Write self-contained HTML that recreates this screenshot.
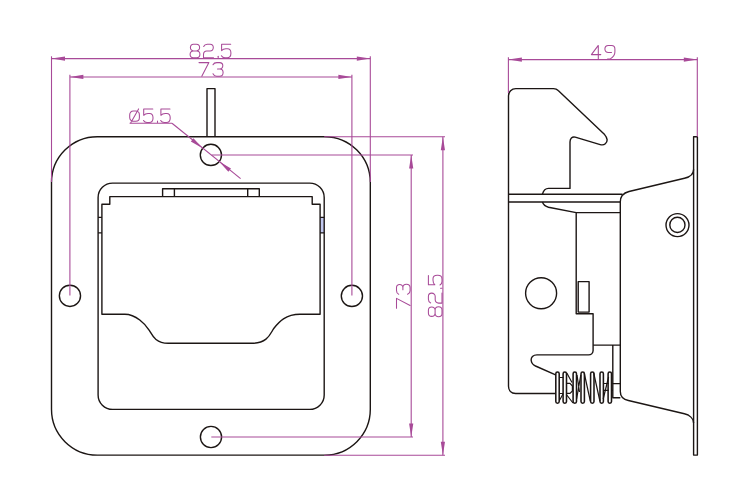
<!DOCTYPE html>
<html><head><meta charset="utf-8"><style>
html,body{margin:0;padding:0;background:#fff;width:750px;height:500px;overflow:hidden;font-family:"Liberation Sans",sans-serif;}
svg{display:block}
</style></head><body><svg width="750" height="500" viewBox="0 0 750 500"><rect x="320.1" y="217.4" width="4.1" height="15.5" fill="#c2c9f0" stroke="none"/><g fill="none" stroke="#1c1614" stroke-width="1.4" stroke-linejoin="round"><rect x="51.5" y="136.7" width="318.8" height="318.4" rx="45.8" ry="45.8"/><path d="M207.0,136.7 L207.0,88.6 L215.0,88.6 L215.0,136.7"/><circle cx="210.9" cy="154.9" r="10.6"/><circle cx="69.95" cy="295.85" r="10.6"/><circle cx="351.9" cy="295.9" r="10.6"/><circle cx="211.0" cy="437.0" r="10.6"/><rect x="98.1" y="183.1" width="226.1" height="226.3" rx="14.5" ry="14.5"/><path d="M101.9,314.3 L101.9,204.3 L109.8,204.3 L109.8,196.6 L312.2,196.6 L312.2,204.3 L320.1,204.3 L320.1,314.3 L300.0,314.3 C285.57,314.3 279.02,321.96 273.94,328.25 C270.72,332.24 268.65,343.3 251.49,343.3 L168.2,343.3 C155.1,343.3 152.13,334.84 149.28,330.36 C145.41,324.3 135.97,314.3 124.8,314.3 Z"/><path d="M162.6,196.6 L162.6,188.8 L259.3,188.8 L259.3,196.6 M174.4,188.8 L174.4,196.6 M247.7,188.8 L247.7,196.6"/><path d="M98.1,217.4 L101.9,217.4 M98.1,232.9 L101.9,232.9"/><path d="M320.1,217.4 L324.2,217.4 M320.1,232.9 L324.2,232.9"/><path d="M542.4,194.2 C543.5,190.5 545.5,188.4 548.5,188.4 L570.0,188.4 L570.0,142 C570.0,138.5 572,136.4 575.2,137.1 L600.2,144.6 C604.5,145.9 607.3,142.8 607.1,139.6 C607,137.6 605.8,136 604.6,134.6 L558.2,90.4 C557,89.2 555.5,88.6 553.5,88.6 L515.8,88.6 C511.6,88.6 508.5,91.7 508.5,95.7 L508.5,386.3 C508.5,390.6 511.3,393.5 515.6,393.5 L556,393.5"/><path d="M508.4,194.3 L622.6,194.3 M508.4,202.0 L620.3,202.0"/><path d="M542.4,202.0 C543.5,205 545.5,206.5 548.5,207.2 L576.2,212.6 L620.3,212.6 M576.2,212.6 L576.2,313.7 L593.1,313.7 L593.1,350.5 C593.1,353 591,354.9 588.5,354.9 L537,354.9 C533,354.9 530.8,357.5 531.2,360.5 C531.5,363 533,364.8 535.5,366 L555.6,374.8"/><rect x="578.2" y="281.6" width="10.9" height="30.5"/><circle cx="541.1" cy="293.2" r="15.5"/><path d="M620.3,202.0 C620.3,196.5 623.5,192.9 629,191.5 L684.5,178.3 C690,177 693.6,173.6 693.6,169.5 M620.3,202.0 L620.3,391.5 C620.3,396 623.5,399.5 628.4,400.5 L684.4,413.8 C689.5,415 693.6,418.5 693.6,423"/><rect x="693.6" y="136.8" width="3.8" height="318.3"/><circle cx="677.5" cy="225.1" r="11.5"/><circle cx="677.4" cy="224.9" r="7.6"/><path d="M593.1,345.1 L620.3,345.1 M612.8,345.1 L612.8,397.8 L620.3,397.8 M612.8,383.6 L620.3,383.6"/><rect x="555.80" y="372.0" width="3.4" height="31.2" rx="1.7" ry="1.7" stroke-width="1.55"/><rect x="563.10" y="372.0" width="3.4" height="31.2" rx="1.7" ry="1.7" stroke-width="1.55"/><rect x="573.10" y="372.0" width="3.4" height="31.2" rx="1.7" ry="1.7" stroke-width="1.55"/><rect x="581.00" y="372.0" width="3.4" height="31.2" rx="1.7" ry="1.7" stroke-width="1.55"/><rect x="590.60" y="372.0" width="3.4" height="31.2" rx="1.7" ry="1.7" stroke-width="1.55"/><rect x="600.00" y="372.0" width="3.4" height="31.2" rx="1.7" ry="1.7" stroke-width="1.55"/><rect x="608.10" y="372.0" width="3.4" height="31.2" rx="1.7" ry="1.7" stroke-width="1.55"/><path d="M559.0,377.5 L563.4,377.5 M559.0,393.5 L563.4,393.5 M559.4,400.5 L563,394 M566.8,373 L572,382.5 M566.8,383.3 L570,383.3 L572.4,386 L572.4,391 L570,393.4 L566.8,393.4 M566.8,395 L573,403 M576.6,399 L580.8,375 M577,375 L579.5,392 M584.2,373 L590.3,401 M593.7,373 L599.9,401 M603.2,399 L608.6,377 M603.2,383.5 L608.6,383.5 M603.2,390.3 L608.6,390.3 M611.4,383.5 L612.8,383.5 M611.4,390.3 L612.8,390.3" stroke-width="1.2"/></g><g><line x1="51.5" y1="56.3" x2="51.5" y2="182" stroke="#a84a98" stroke-width="1.1"/><line x1="370.3" y1="56.3" x2="370.3" y2="182" stroke="#a84a98" stroke-width="1.1"/><line x1="51.5" y1="58.6" x2="370.3" y2="58.6" stroke="#a84a98" stroke-width="1.1"/><path d="M51.50,58.60 L65.00,60.70 L65.00,56.50 Z" fill="#a84a98" stroke="none"/><path d="M370.30,58.60 L356.80,56.50 L356.80,60.70 Z" fill="#a84a98" stroke="none"/><line x1="69.9" y1="74.7" x2="69.9" y2="295.6" stroke="#a84a98" stroke-width="1.1"/><line x1="351.9" y1="74.7" x2="351.9" y2="295.6" stroke="#a84a98" stroke-width="1.1"/><line x1="69.9" y1="76.95" x2="351.9" y2="76.95" stroke="#a84a98" stroke-width="1.1"/><path d="M69.90,76.95 L83.40,79.05 L83.40,74.85 Z" fill="#a84a98" stroke="none"/><path d="M351.90,76.95 L338.40,74.85 L338.40,79.05 Z" fill="#a84a98" stroke="none"/><line x1="324.2" y1="136.7" x2="445" y2="136.7" stroke="#a84a98" stroke-width="1.1"/><line x1="211.6" y1="155.05" x2="413" y2="155.05" stroke="#a84a98" stroke-width="1.1"/><line x1="211.3" y1="437.0" x2="413" y2="437.0" stroke="#a84a98" stroke-width="1.1"/><line x1="324.2" y1="455.3" x2="445" y2="455.3" stroke="#a84a98" stroke-width="1.1"/><line x1="411.2" y1="155.05" x2="411.2" y2="437.0" stroke="#a84a98" stroke-width="1.1"/><line x1="442.9" y1="136.7" x2="442.9" y2="455.3" stroke="#a84a98" stroke-width="1.1"/><path d="M411.20,155.05 L409.10,168.55 L413.30,168.55 Z" fill="#a84a98" stroke="none"/><path d="M411.20,437.00 L413.30,423.50 L409.10,423.50 Z" fill="#a84a98" stroke="none"/><path d="M442.90,136.70 L440.80,150.20 L445.00,150.20 Z" fill="#a84a98" stroke="none"/><path d="M442.90,455.30 L445.00,441.80 L440.80,441.80 Z" fill="#a84a98" stroke="none"/><line x1="129.6" y1="123.3" x2="172.0" y2="123.3" stroke="#a84a98" stroke-width="1.1"/><line x1="172.0" y1="123.3" x2="240.6" y2="178.6" stroke="#a84a98" stroke-width="1.1"/><path d="M202.65,148.25 L193.46,138.14 L190.82,141.41 Z" fill="#a84a98" stroke="none"/><path d="M219.15,161.55 L228.34,171.66 L230.98,168.39 Z" fill="#a84a98" stroke="none"/><line x1="508.4" y1="57.3" x2="508.4" y2="93" stroke="#a84a98" stroke-width="1.1"/><line x1="697.3" y1="57.3" x2="697.3" y2="136.8" stroke="#a84a98" stroke-width="1.1"/><line x1="508.4" y1="59.6" x2="697.3" y2="59.6" stroke="#a84a98" stroke-width="1.1"/><path d="M508.40,59.60 L521.90,61.70 L521.90,57.50 Z" fill="#a84a98" stroke="none"/><path d="M697.30,59.60 L683.80,57.50 L683.80,61.70 Z" fill="#a84a98" stroke="none"/></g><g transform="translate(190.0,44.2)" fill="none" stroke="#a84a98" stroke-width="1.05" stroke-linecap="round" stroke-linejoin="round"><path transform="translate(0.00,0)" d="M3.4,0 L6.4,0 C8.3,0 9.6,1.3 9.6,3.3 C9.6,5.3 8.3,6.7 6.4,6.7 L3.5,6.7 C1.6,6.7 0.4,5.3 0.4,3.3 C0.4,1.3 1.6,0 3.4,0 Z M3.3,6.7 L6.7,6.7 C8.6,6.7 9.9,8.1 9.9,10.1 C9.9,12.2 8.6,13.6 6.7,13.6 L3.3,13.6 C1.4,13.6 0.1,12.2 0.1,10.1 C0.1,8.1 1.4,6.7 3.3,6.7 Z"/><path transform="translate(13.30,0)" d="M0.4,2.3 C1,0.8 2.3,0 4,0 L6.8,0 C8.7,0 10,1.3 10,3.3 C10,5.4 8.7,6.8 6.8,6.8 L3.4,6.8 C1.5,6.8 0.2,8.2 0.2,10.2 L0.2,13.6 L10.2,13.6"/><path transform="translate(27.40,0)" d="M0.8,12.1 L0.8,13.6"/><path transform="translate(31.30,0)" d="M9.4,0 L0.3,0 L0.3,6.4 C1.3,5.2 2.6,4.6 4.6,4.6 L6.2,4.6 C8.3,4.6 9.6,6.3 9.6,8.8 L9.6,9.4 C9.6,12 8.2,13.6 5.8,13.6 L3.6,13.6 C2,13.6 0.8,12.8 0.1,11.6"/></g><g transform="translate(199.0,62.6)" fill="none" stroke="#a84a98" stroke-width="1.05" stroke-linecap="round" stroke-linejoin="round"><path transform="translate(0.00,0)" d="M0,0 L9.9,0 L2.8,13.6"/><path transform="translate(14.00,0)" d="M0,2.2 C0.7,0.8 2,0 3.8,0 L6.6,0 C8.6,0 9.8,1.3 9.8,3.2 C9.8,5.1 8.5,6.4 6.6,6.4 L4.5,6.4 L6.8,6.4 C8.8,6.4 10.1,7.9 10.1,9.9 C10.1,12.1 8.7,13.6 6.6,13.6 L3.6,13.6 C1.9,13.6 0.7,12.6 0,11.1"/></g><g transform="translate(129.7,108.9)" fill="none" stroke="#a84a98" stroke-width="1.05" stroke-linecap="round" stroke-linejoin="round"><path transform="translate(0.00,0)" d="M3.6,2.1 L6.1,2.1 C8.2,2.1 9.7,3.8 9.7,6.1 L9.7,8.6 C9.7,10.8 8.2,12.4 6.1,12.4 L3.6,12.4 C1.5,12.4 0,10.8 0,8.6 L0,6.1 C0,3.8 1.5,2.1 3.6,2.1 Z M1.1,13.9 L8.9,0"/><path transform="translate(13.70,0)" d="M9.4,0 L0.3,0 L0.3,6.4 C1.3,5.2 2.6,4.6 4.6,4.6 L6.2,4.6 C8.3,4.6 9.6,6.3 9.6,8.8 L9.6,9.4 C9.6,12 8.2,13.6 5.8,13.6 L3.6,13.6 C2,13.6 0.8,12.8 0.1,11.6"/><path transform="translate(27.00,0)" d="M0.8,12.1 L0.8,13.6"/><path transform="translate(30.90,0)" d="M9.4,0 L0.3,0 L0.3,6.4 C1.3,5.2 2.6,4.6 4.6,4.6 L6.2,4.6 C8.3,4.6 9.6,6.3 9.6,8.8 L9.6,9.4 C9.6,12 8.2,13.6 5.8,13.6 L3.6,13.6 C2,13.6 0.8,12.8 0.1,11.6"/></g><g transform="translate(591.4,45.4)" fill="none" stroke="#a84a98" stroke-width="1.05" stroke-linecap="round" stroke-linejoin="round"><path transform="translate(0.00,0)" d="M6.9,13.9 L6.9,0 L0,9.2 L9.4,9.2"/><path transform="translate(13.50,0)" d="M6.6,7.1 L3.4,7.1 C1.4,7.1 0,5.7 0,3.6 C0,1.4 1.4,0 3.4,0 L6.6,0 C8.7,0 10,1.4 10,3.6 L10,6.5 C10,9 8.4,11.6 5.4,13.5 L2.6,13.5"/></g><g transform="translate(396.5,308.3) rotate(-90)" fill="none" stroke="#a84a98" stroke-width="1.05" stroke-linecap="round" stroke-linejoin="round"><path transform="translate(0.00,0)" d="M0,0 L9.9,0 L2.8,13.6"/><path transform="translate(14.00,0)" d="M0,2.2 C0.7,0.8 2,0 3.8,0 L6.6,0 C8.6,0 9.8,1.3 9.8,3.2 C9.8,5.1 8.5,6.4 6.6,6.4 L4.5,6.4 L6.8,6.4 C8.8,6.4 10.1,7.9 10.1,9.9 C10.1,12.1 8.7,13.6 6.6,13.6 L3.6,13.6 C1.9,13.6 0.7,12.6 0,11.1"/></g><g transform="translate(428.4,316.8) rotate(-90) scale(1.015,1.0)" fill="none" stroke="#a84a98" stroke-width="1.05" stroke-linecap="round" stroke-linejoin="round"><path transform="translate(0.00,0)" d="M3.4,0 L6.4,0 C8.3,0 9.6,1.3 9.6,3.3 C9.6,5.3 8.3,6.7 6.4,6.7 L3.5,6.7 C1.6,6.7 0.4,5.3 0.4,3.3 C0.4,1.3 1.6,0 3.4,0 Z M3.3,6.7 L6.7,6.7 C8.6,6.7 9.9,8.1 9.9,10.1 C9.9,12.2 8.6,13.6 6.7,13.6 L3.3,13.6 C1.4,13.6 0.1,12.2 0.1,10.1 C0.1,8.1 1.4,6.7 3.3,6.7 Z"/><path transform="translate(13.30,0)" d="M0.4,2.3 C1,0.8 2.3,0 4,0 L6.8,0 C8.7,0 10,1.3 10,3.3 C10,5.4 8.7,6.8 6.8,6.8 L3.4,6.8 C1.5,6.8 0.2,8.2 0.2,10.2 L0.2,13.6 L10.2,13.6"/><path transform="translate(27.40,0)" d="M0.8,12.1 L0.8,13.6"/><path transform="translate(31.30,0)" d="M9.4,0 L0.3,0 L0.3,6.4 C1.3,5.2 2.6,4.6 4.6,4.6 L6.2,4.6 C8.3,4.6 9.6,6.3 9.6,8.8 L9.6,9.4 C9.6,12 8.2,13.6 5.8,13.6 L3.6,13.6 C2,13.6 0.8,12.8 0.1,11.6"/></g></svg></body></html>
